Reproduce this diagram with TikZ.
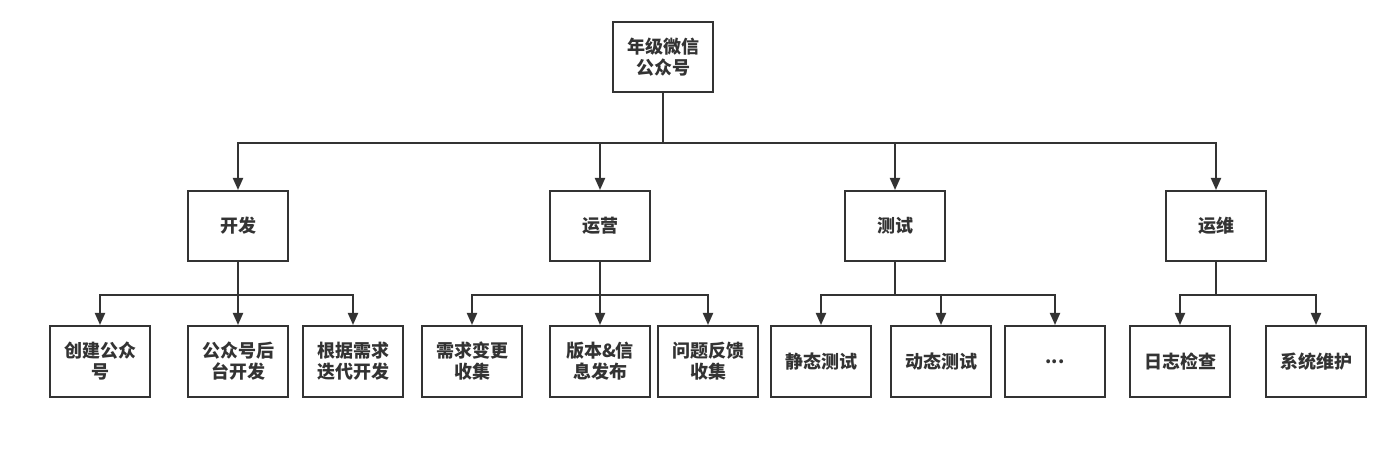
\documentclass[tikz,border=0pt]{standalone}
\usepackage{fontspec}
\setmainfont{Noto Sans CJK SC}
\usepackage{tikz}
\usetikzlibrary{positioning,arrows.meta}
\definecolor{LineGray}{HTML}{333333}

\begin{document}
\begin{tikzpicture}[x=1pt,y=-1pt,
		box/.style={draw=LineGray, line width=2pt, minimum width=100pt, minimum height=70pt, inner sep=0pt, align=center, text=LineGray, font=\bfseries\fontsize{18}{21}\selectfont},
		link/.style={draw=LineGray, line width=2pt, -{Triangle[length=12pt,width=10pt]}}]
		\useasboundingbox[fill=white] (0,0) rectangle (1398,454);
		\node[box] (root) at (663,57) {年级微信\\公众号};
		\node[box] (kf) at (238,226) {开发};
		\node[box] (yy) at (600,226) {运营};
		\node[box] (cs) at (895,226) {测试};
		\node[box] (yw) at (1216,226) {运维};
		\node[box, minimum height=71pt] (kf1) at (100,361.5) {创建公众\\号};
		\node[box, minimum height=71pt] (kf2) at (238,361.5) {公众号后\\台开发};
		\node[box, minimum height=71pt] (kf3) at (353,361.5) {根据需求\\迭代开发};
		\node[box, minimum height=71pt] (yy1) at (472,361.5) {需求变更\\收集};
		\node[box, minimum height=71pt] (yy2) at (600,361.5) {版本\&信\\息发布};
		\node[box, minimum height=71pt] (yy3) at (708,361.5) {问题反馈\\收集};
		\node[box, minimum height=71pt] (cs1) at (821,361.5) {静态测试};
		\node[box, minimum height=71pt] (cs2) at (941,361.5) {动态测试};
		\node[box, minimum height=71pt] (cs3) at (1055,361.5) {...};
		\node[box, minimum height=71pt] (yw1) at (1180,361.5) {日志检查};
		\node[box, minimum height=71pt] (yw2) at (1316,361.5) {系统维护};
		\foreach \c in {kf,yy,cs,yw}
			\draw[link] (root.south) -- ++(0,50) -| (\c.north);
		\foreach \c in {kf1,kf2,kf3}
			\draw[link] (kf.south) -- ++(0,33) -| (\c.north);
		\foreach \c in {yy1,yy2,yy3}
			\draw[link] (yy.south) -- ++(0,33) -| (\c.north);
		\foreach \c in {cs1,cs2,cs3}
			\draw[link] (cs.south) -- ++(0,33) -| (\c.north);
		\foreach \c in {yw1,yw2}
			\draw[link] (yw.south) -- ++(0,33) -| (\c.north);
	\end{tikzpicture}
\end{document}
